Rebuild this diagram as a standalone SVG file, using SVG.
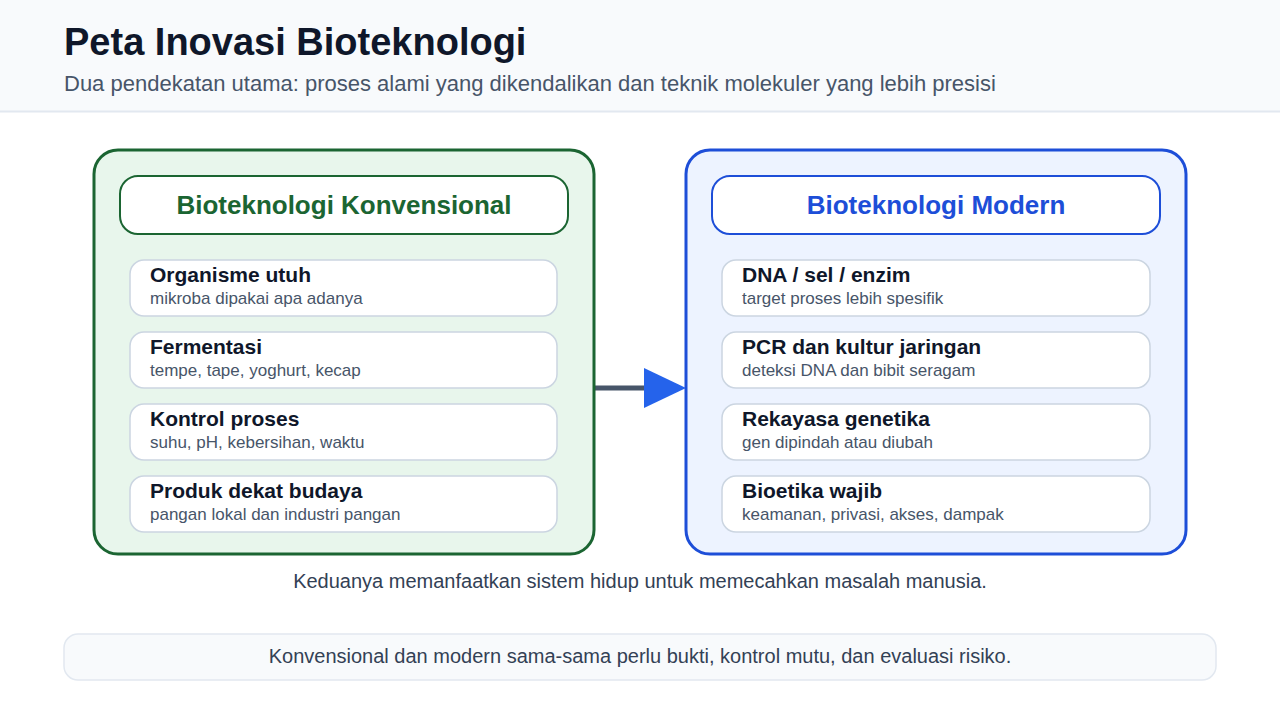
<svg xmlns="http://www.w3.org/2000/svg" width="1280" height="720" viewBox="0 0 1280 720">
<defs>
<style>
text{font-family:"Liberation Sans",Arial,sans-serif}
.it{fill:#ffffff;stroke:#cbd5e1;stroke-width:1.5}
.t{font-size:21px;font-weight:bold;fill:#0f172a}
.s{font-size:17px;fill:#475569}
.ph{font-size:26px;font-weight:bold;text-anchor:middle}
</style>
</defs>
<rect x="0" y="0" width="1280" height="720" fill="#ffffff"/>
<rect x="0" y="0" width="1280" height="111" fill="#f8fafc"/>
<line x1="0" y1="111.5" x2="1280" y2="111.5" stroke="#e2e8f0" stroke-width="2"/>
<text x="64" y="55" font-size="38" font-weight="bold" fill="#0f172a">Peta Inovasi Bioteknologi</text>
<text x="64" y="91" font-size="22" fill="#475569">Dua pendekatan utama: proses alami yang dikendalikan dan teknik molekuler yang lebih presisi</text>

<g id="connectors">
<line x1="595" y1="388" x2="646" y2="388" stroke="#475569" stroke-width="5"/>
<polygon points="644,368 686,388 644,408" fill="#2563eb"/>
</g>

<g id="konvensional">
<rect x="94" y="150" width="500" height="404" rx="24" fill="#e8f6ec" stroke="#1b6532" stroke-width="3"/>
<rect x="120" y="176" width="448" height="58" rx="18" fill="#ffffff" stroke="#1b6532" stroke-width="2"/>
<text class="ph" x="344" y="214" fill="#1b6532">Bioteknologi Konvensional</text>
<rect class="it" x="130" y="260" width="427" height="56" rx="14"/>
<text class="t" x="150" y="282">Organisme utuh</text>
<text class="s" x="150" y="304">mikroba dipakai apa adanya</text>
<rect class="it" x="130" y="332" width="427" height="56" rx="14"/>
<text class="t" x="150" y="354">Fermentasi</text>
<text class="s" x="150" y="376">tempe, tape, yoghurt, kecap</text>
<rect class="it" x="130" y="404" width="427" height="56" rx="14"/>
<text class="t" x="150" y="426">Kontrol proses</text>
<text class="s" x="150" y="448">suhu, pH, kebersihan, waktu</text>
<rect class="it" x="130" y="476" width="427" height="56" rx="14"/>
<text class="t" x="150" y="498">Produk dekat budaya</text>
<text class="s" x="150" y="520">pangan lokal dan industri pangan</text>
</g>

<g id="modern">
<rect x="686" y="150" width="500" height="404" rx="24" fill="#edf3ff" stroke="#1d4ed8" stroke-width="3"/>
<rect x="712" y="176" width="448" height="58" rx="18" fill="#ffffff" stroke="#1d4ed8" stroke-width="2"/>
<text class="ph" x="936" y="214" fill="#1d4ed8">Bioteknologi Modern</text>
<rect class="it" x="722" y="260" width="428" height="56" rx="14"/>
<text class="t" x="742" y="282">DNA / sel / enzim</text>
<text class="s" x="742" y="304">target proses lebih spesifik</text>
<rect class="it" x="722" y="332" width="428" height="56" rx="14"/>
<text class="t" x="742" y="354">PCR dan kultur jaringan</text>
<text class="s" x="742" y="376">deteksi DNA dan bibit seragam</text>
<rect class="it" x="722" y="404" width="428" height="56" rx="14"/>
<text class="t" x="742" y="426">Rekayasa genetika</text>
<text class="s" x="742" y="448">gen dipindah atau diubah</text>
<rect class="it" x="722" y="476" width="428" height="56" rx="14"/>
<text class="t" x="742" y="498">Bioetika wajib</text>
<text class="s" x="742" y="520">keamanan, privasi, akses, dampak</text>
</g>

<text x="640" y="588" font-size="20" fill="#334155" text-anchor="middle">Keduanya memanfaatkan sistem hidup untuk memecahkan masalah manusia.</text>

<g id="note">
<rect x="64" y="634" width="1152" height="46" rx="14" fill="#f8fafc" stroke="#e2e8f0" stroke-width="1.5"/>
<text x="640" y="663" font-size="20" fill="#334155" text-anchor="middle">Konvensional dan modern sama-sama perlu bukti, kontrol mutu, dan evaluasi risiko.</text>
</g>
</svg>
